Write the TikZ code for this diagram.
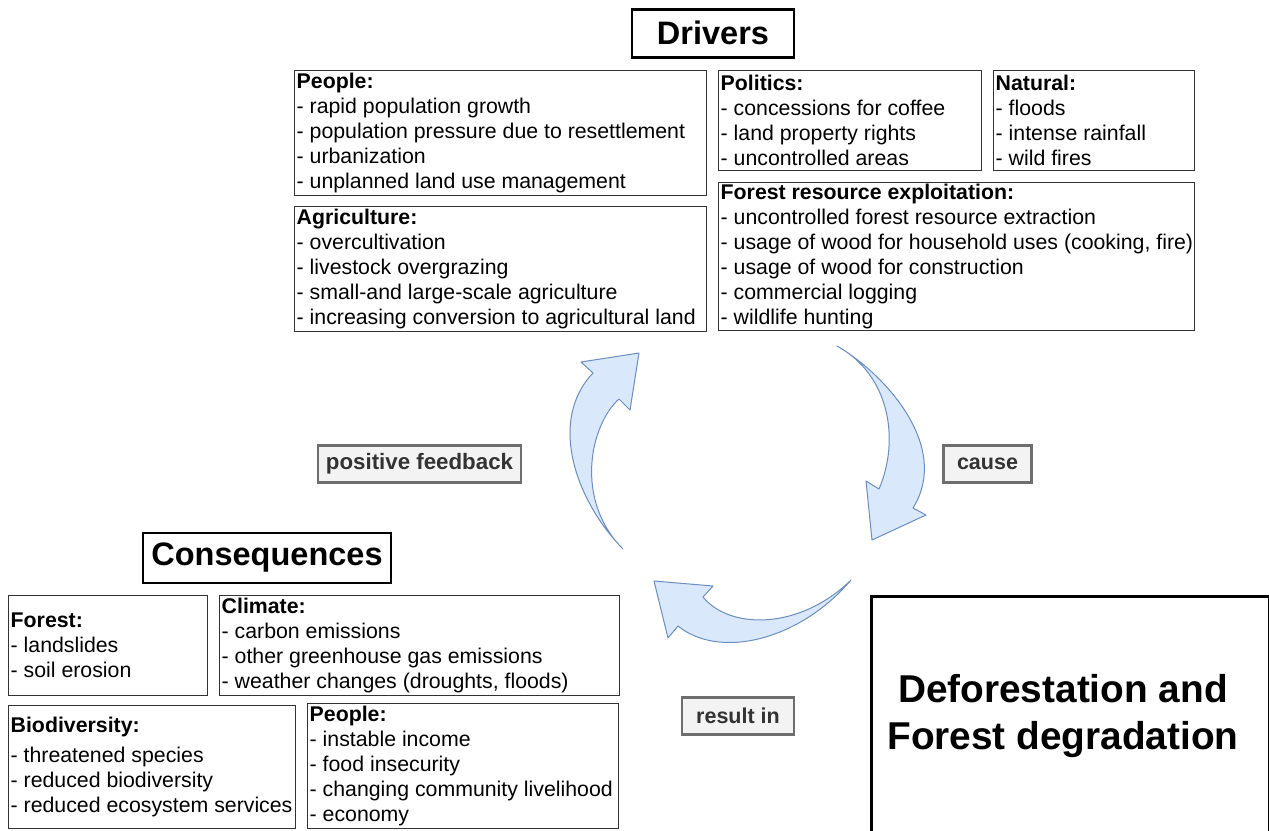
\documentclass[tikz,border=0pt]{standalone}
\usepackage{fontspec}
\setmainfont{Liberation Sans}
\definecolor{arrfill}{HTML}{DAE8FC}
\definecolor{arrdraw}{HTML}{6C8EBF}
\definecolor{lblfill}{HTML}{F3F3F3}
\definecolor{lbldraw}{HTML}{6E6E6E}
\definecolor{lbltext}{HTML}{333333}
\begin{document}
\begin{tikzpicture}[x=1pt,y=-1pt,
  listbox/.style={draw=black!80, line width=1.3pt, inner sep=0pt, anchor=north west},
  listtext/.style={anchor=west, align=left, inner sep=0pt, font=\fontsize{21.3}{25}\selectfont},
  titlebox/.style={draw=black, line width=2.6pt, inner sep=0pt, font=\fontsize{32.5}{38}\selectfont\bfseries},
  lblbox/.style={draw=lbldraw, fill=lblfill, line width=2.2pt, inner sep=0pt, minimum height=37pt, text=lbltext, font=\fontsize{21.5}{25}\selectfont\bfseries},
  blockarrow/.style={draw=arrdraw, fill=arrfill, line width=1pt, line join=round}]
\useasboundingbox (0,0) rectangle (1269,830);

% Drivers
\node[titlebox, minimum width=162pt, minimum height=48pt] (drivers) at (713,33.3) {Drivers};

\node[listbox, minimum width=412pt, minimum height=125pt] (dpeople) at (294,70) {};
\node[listtext] at ([xshift=2.5pt]dpeople.west) {\textbf{People:}\\- rapid population growth\\- population pressure due to resettlement\\- urbanization\\- unplanned land use management};

\node[listbox, minimum width=412pt, minimum height=125pt] (dagri) at (294,206) {};
\node[listtext] at ([xshift=2.5pt]dagri.west) {\textbf{Agriculture:}\\- overcultivation\\- livestock overgrazing\\- small-and large-scale agriculture\\- increasing conversion to agricultural land};

\node[listbox, minimum width=263pt, minimum height=100pt] (dpol) at (718,70) {};
\node[listtext] at ([xshift=2.5pt]dpol.west) {\textbf{Politics:}\\- concessions for coffee\\- land property rights\\- uncontrolled areas};

\node[listbox, minimum width=201pt, minimum height=100pt] (dnat) at (993,70) {};
\node[listtext] at ([xshift=2.5pt]dnat.west) {\textbf{Natural:}\\- floods\\- intense rainfall\\- wild fires};

\node[listbox, minimum width=476pt, minimum height=148pt] (dfor) at (718,182) {};
\node[listtext] at ([xshift=2.5pt]dfor.west) {\textbf{Forest resource exploitation:}\\- uncontrolled forest resource extraction\\- usage of wood for household uses (cooking, fire)\\- usage of wood for construction\\- commercial logging\\- wildlife hunting};

% Consequences
\node[titlebox, minimum width=248pt, minimum height=50pt] (conseq) at (267,558) {Consequences};

\node[listbox, minimum width=199pt, minimum height=100pt] (cforest) at (8,595) {};
\node[listtext] at ([xshift=2.5pt]cforest.west) {\textbf{Forest:}\\- landslides\\- soil erosion};

\node[listbox, minimum width=400pt, minimum height=100pt] (cclim) at (219,595) {};
\node[listtext] at ([xshift=2.5pt]cclim.west) {\textbf{Climate:}\\- carbon emissions\\- other greenhouse gas emissions\\- weather changes (droughts, floods)};

\node[listbox, minimum width=287pt, minimum height=123pt] (cbio) at (8,705) {};
\node[listtext] at ([xshift=2.5pt]cbio.west) {\textbf{Biodiversity:}\\[5pt]- threatened species\\- reduced biodiversity\\- reduced ecosystem services};

\node[listbox, minimum width=311pt, minimum height=125pt] (cpeople) at (307,703) {};
\node[listtext] at ([xshift=2.5pt]cpeople.west) {\textbf{People:}\\- instable income\\- food insecurity\\- changing community livelihood\\- economy};

% Central box
\node[draw=black, line width=2.8pt, inner sep=0pt, anchor=north west, minimum width=398pt, minimum height=245pt] (defor) at (870,595) {};
\node[align=center, inner sep=0pt, font=\fontsize{38.8}{46.5}\selectfont\bfseries] (defortext) at (1063,716) {Deforestation and\\Forest degradation};

% Labels
\node[lblbox, minimum width=203pt, font=\fontsize{22.3}{25}\selectfont\bfseries] (lpos) at (419.5,464) {positive feedback};
\node[lblbox, minimum width=88pt] (lcause) at (987.5,464) {cause};
\node[lblbox, minimum width=112pt] (lres) at (738,716) {result in};

% Block arrows
\draw[blockarrow] (623,549) .. controls (575,500) and (548,420) .. (593,373)
  -- (581,362) -- (639,353) -- (630,410) -- (619,399)
  .. controls (590,425) and (574,500) .. (623,549) -- cycle;

\draw[blockarrow] (837,346) .. controls (882,372) and (952,445) .. (913,508)
  -- (926,515) -- (872,540) -- (866,481) -- (879,489)
  .. controls (900,440) and (890,375) .. (837,346) -- cycle;

\draw[blockarrow] (851,580) .. controls (800,640) and (720,660) .. (678,626)
  -- (668,638) -- (654,581) -- (713,586) -- (703,597)
  .. controls (730,630) and (800,630) .. (851,580) -- cycle;
\end{tikzpicture}
\end{document}
